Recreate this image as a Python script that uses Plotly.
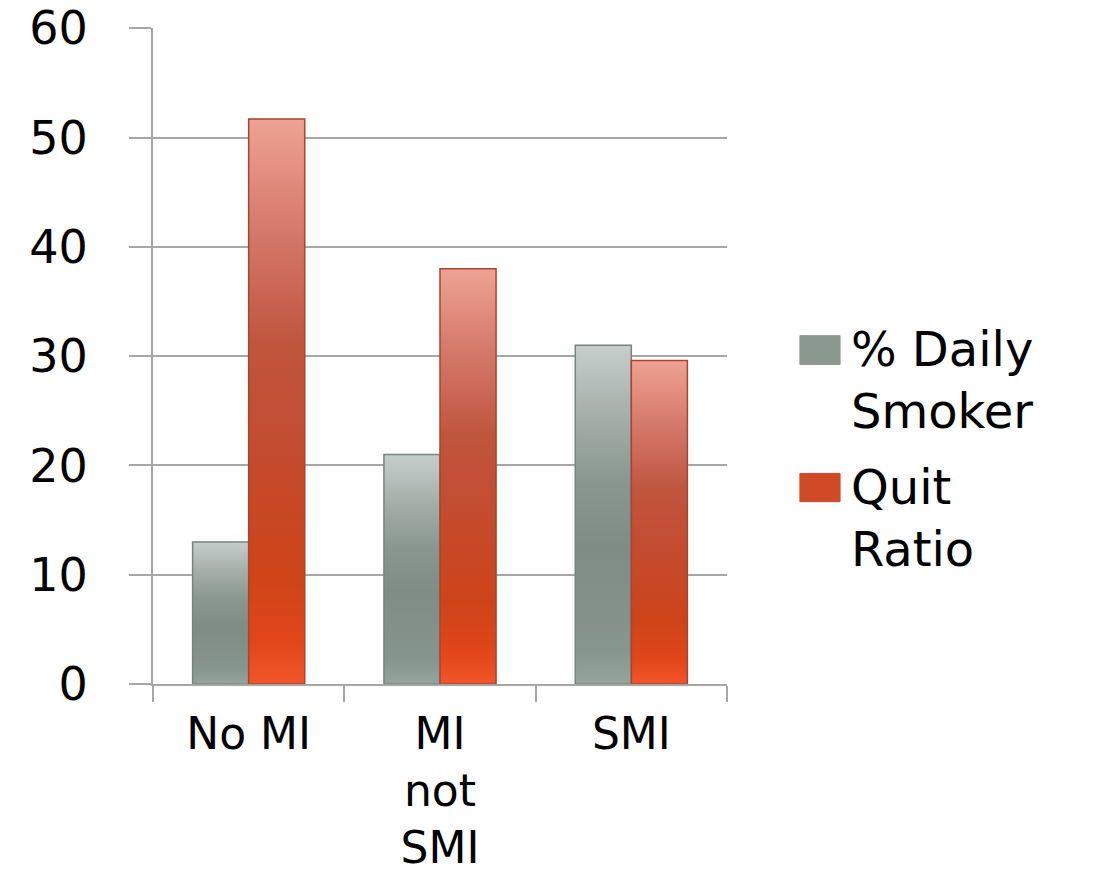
import plotly.graph_objects as go

# Data
categories = ["No MI", "MI<br>not<br>SMI", "SMI"]
series_names = ["% Daily<br>Smoker", "Quit<br>Ratio"]
daily_smoker = [13.0, 21.0, 31.0]
quit_ratio = [51.7, 38.0, 29.6]
y_ticks = [0, 10, 20, 30, 40, 50, 60]

series = [
    dict(values=daily_smoker, side=-1, line="#77837d",
         scale=[[0.0, "#95a49c"], [0.1, "#86958d"], [0.4, "#7f8c86"],
                [0.6, "#8a9791"], [0.8, "#a6b0ab"], [1.0, "#c6cecb"]],
         swatch="#8a9890"),
    dict(values=quit_ratio, side=1, line="#a8452f",
         scale=[[0.0, "#f2552a"], [0.08, "#e0461a"], [0.2, "#cd4419"],
                [0.4, "#c44b2e"], [0.6, "#c0553e"], [0.8, "#d4786a"],
                [1.0, "#eea293"]],
         swatch="#d04a28"),
]

BAR_W = 0.293  # width of one bar, in category units
FONT = "'DejaVu Sans', sans-serif"
FS = 48

fig = go.Figure()

# Each bar is its own filled polygon so its vertical gradient spans only that bar
for s in series:
    for i, v in enumerate(s["values"]):
        x0 = i if s["side"] > 0 else i - BAR_W
        x1 = x0 + BAR_W
        fig.add_trace(go.Scatter(
            x=[x0, x0, x1, x1, x0],
            y=[0, v, v, 0, 0],
            mode="lines",
            fill="toself",
            line=dict(color=s["line"], width=1.5),
            fillgradient=dict(type="vertical", colorscale=s["scale"],
                              start=0, stop=v),
            showlegend=False,
            hoverinfo="skip",
        ))

# Legend on the right: a swatch per series followed by its two-line label
swatch_y = [(0.487, 0.531), (0.278, 0.321)]
label_y = [0.463, 0.253]
for s, name, (y0, y1), ty in zip(series, series_names, swatch_y, label_y):
    fig.add_shape(type="rect", xref="paper", yref="paper",
                  x0=1.127, x1=1.197, y0=y0, y1=y1,
                  fillcolor=s["swatch"], line=dict(color=s["swatch"], width=1))
    fig.add_annotation(xref="paper", yref="paper", x=1.212, y=ty,
                       xanchor="left", yanchor="middle", align="left",
                       text=name, showarrow=False,
                       font=dict(family=FONT, size=FS, color="#000000"))

fig.update_layout(
    width=1107, height=883,
    margin=dict(l=153, r=380, t=28, b=199, autoexpand=False),
    paper_bgcolor="white", plot_bgcolor="white",
    showlegend=False,
    font=dict(family=FONT, size=FS, color="#000000"),
    xaxis=dict(
        range=[-0.5, 2.5], automargin=False,
        tickmode="array", tickvals=[0, 1, 2], ticktext=categories,
        tickfont=dict(size=44),
        ticks="", showgrid=False, zeroline=False,
        showline=True, linecolor="#a6a6a6", linewidth=2,
        ticklabelstandoff=10,
        minor=dict(tickmode="array", tickvals=[-0.5, 0.5, 1.5, 2.5],
                   ticks="outside", ticklen=16, tickcolor="#a6a6a6",
                   tickwidth=2, showgrid=False),
        fixedrange=True,
    ),
    yaxis=dict(
        range=[0, 60.02], automargin=False,
        tickmode="array", tickvals=y_ticks,
        tickfont=dict(size=46),
        ticklabeloverflow="allow",
        ticks="outside", ticklen=22, tickcolor="#a6a6a6", tickwidth=2,
        showgrid=True, gridcolor="#a6a6a6", gridwidth=2,
        zeroline=False,
        showline=True, linecolor="#a6a6a6", linewidth=2,
        ticklabelstandoff=32,
        fixedrange=True,
    ),
)

fig.write_html("out.html")
